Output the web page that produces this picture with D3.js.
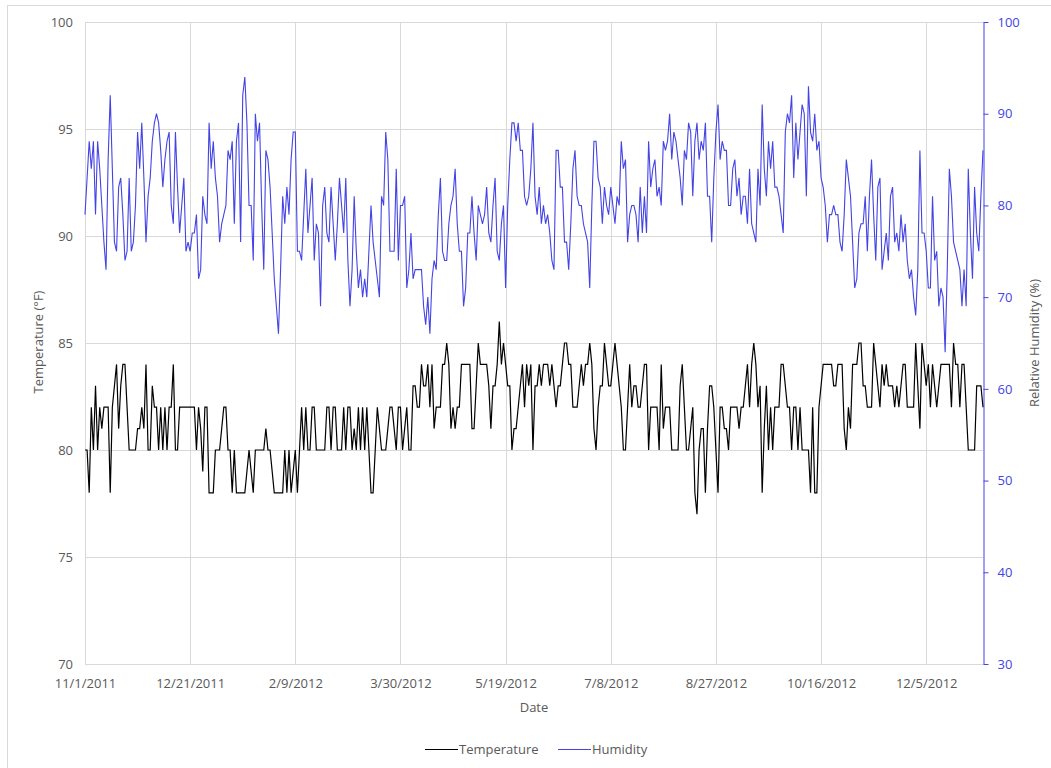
<!DOCTYPE html>
<html><head><meta charset="utf-8">
<script src="https://cdn.jsdelivr.net/npm/d3@7"></script>
<style>body{margin:0;background:#fff} text{font-family:"Open Sans",sans-serif}</style>
</head><body><svg id="c" width="1051" height="768"></svg>
<script>
const startDate = "2011-11-01";
const tickDates = ["2011-11-01","2011-12-21","2012-02-09","2012-03-30","2012-05-19","2012-07-08","2012-08-27","2012-10-16","2012-12-05"];
const tempTicks = [70,75,80,85,90,95,100];
const humTicks = [30,40,50,60,70,80,90,100];
const seriesNames = ["Temperature","Humidity"];

const temperature = [80,80,78,82,80,83,80,82,81,82,
82,82,78,82,83,84,81,83,84,84,
82,80,80,80,80,81,81,82,81,84,
80,80,83,82,82,80,82,80,82,80,
82,82,84,80,80,82,82,82,82,82,
82,82,82,80,82,81,79,82,82,78,
78,78,80,80,80,81,82,82,80,80,
78,80,78,78,78,78,78,79,80,79,
78,80,80,80,80,80,81,80,80,79,
78,78,78,78,78,80,78,80,78,79,
80,78,80,82,80,82,80,80,82,82,
80,80,80,80,80,82,82,80,82,82,
80,80,80,82,80,82,82,80,81,80,
82,80,82,80,82,80,78,78,80,82,
81,80,80,80,81,82,82,81,80,82,
82,80,81,82,80,80,83,83,82,82,
84,83,83,84,82,84,81,82,82,82,
84,84,85,84,81,82,81,82,82,84,
84,84,84,84,81,81,83,85,84,84,
84,84,83,81,83,83,84,86,84,85,
84,83,83,80,81,81,82,83,84,82,
84,83,84,80,83,83,84,83,84,84,
84,83,84,83,82,83,83,84,85,85,
84,84,82,82,82,83,84,83,84,84,
85,84,81,80,82,83,83,85,84,83,
83,84,85,84,83,82,80,80,82,84,
82,83,83,82,82,83,84,84,80,82,
82,82,82,80,84,81,82,82,82,80,
80,80,80,83,84,82,80,80,81,82,
78,77,80,81,81,78,81,83,83,82,
80,78,82,82,81,81,80,82,82,82,
82,81,82,82,83,84,82,84,85,84,
82,83,78,81,83,80,82,80,82,82,
82,84,84,83,82,82,80,82,82,80,
82,80,80,80,80,78,82,78,78,82,
83,84,84,84,84,84,83,83,84,84,
84,81,80,82,81,84,84,84,85,85,
83,83,82,82,82,85,84,83,82,84,
83,84,83,83,83,82,83,82,83,84,
84,82,82,82,82,85,83,81,85,84,
83,84,82,84,83,82,83,84,84,84,
84,84,82,85,84,84,82,84,84,82,
80,80,80,80,83,83,83,82];

const humidity = [79,83,87,84,87,79,87,84,80,76,
73,85,92,84,76,75,82,83,79,74,
75,83,75,76,80,88,84,89,83,76,
81,83,87,89,90,89,86,82,85,87,
88,80,78,88,82,77,80,83,75,76,
75,77,77,79,72,73,81,79,78,89,
84,87,83,81,76,78,79,80,86,85,
87,78,87,89,76,92,94,89,80,80,
74,90,87,89,80,73,86,85,82,77,
72,69,66,73,81,78,82,79,85,88,
88,75,75,74,79,84,77,80,83,74,
78,77,69,80,82,77,76,82,78,74,
78,83,80,77,83,74,69,73,81,75,
71,73,70,72,70,75,80,76,74,72,
70,81,80,88,85,75,75,75,84,74,
80,80,81,71,73,77,72,73,73,73,
73,69,67,70,66,72,74,73,79,83,
75,74,74,78,80,81,84,78,75,75,
69,71,77,77,81,77,74,80,79,78,
79,82,77,76,80,83,75,74,78,80,
71,80,85,89,89,87,89,86,86,81,
80,81,84,89,81,79,82,78,80,78,
79,77,74,73,86,86,82,82,76,76,
73,78,84,86,81,80,80,78,77,76,
71,80,87,87,83,82,78,82,80,79,
82,80,78,81,80,87,84,85,76,79,
80,80,79,76,82,77,81,77,87,82,
84,85,81,82,80,87,86,87,90,85,
88,87,85,83,80,86,85,89,88,81,
87,89,85,87,86,89,81,81,76,83,
88,91,85,87,86,86,80,80,84,85,
81,83,79,81,81,78,84,78,77,76,
84,80,91,84,81,87,84,87,82,82,
81,79,77,88,90,89,92,83,89,85,
88,91,90,81,93,88,87,90,86,87,
83,82,80,76,79,79,80,79,79,76,
75,79,85,83,81,76,71,72,77,78,
78,81,75,81,85,79,74,82,83,73,
75,77,74,81,82,76,77,75,79,76,
78,74,72,73,70,68,73,86,77,77,
75,71,71,81,74,75,69,71,70,64,
73,84,81,76,75,74,73,69,73,69,
84,77,72,82,77,75,81,86];

const W = 1051, H = 768;
const L = 85, R = 983, T = 22, B = 664;
const grid = "#d9d9d9", txt = "#595959", blue = "#4343e6";

const svg = d3.select("#c");
svg.append("rect").attr("x",7.5).attr("y",5.5).attr("width",1060).attr("height",780)
  .attr("fill","#fff").attr("stroke",grid).attr("stroke-width",1);

const parse = d3.utcParse("%Y-%m-%d");
const t0 = parse(startDate);
const dates = temperature.map((_, i) => d3.utcDay.offset(t0, i));
const x = d3.scaleUtc().domain([t0, dates[dates.length-1]]).range([L, R]);
const yT = d3.scaleLinear().domain([70,100]).range([B, T]);
const yH = d3.scaleLinear().domain([30,100]).range([B, T]);
const ticksX = tickDates.map(parse);
const fmt = d => (d.getUTCMonth()+1) + "/" + d.getUTCDate() + "/" + d.getUTCFullYear();

// gridlines
const g = svg.append("g");
g.selectAll(".hg").data(tempTicks).join("line")
  .attr("x1",L).attr("x2",R).attr("y1",d=>Math.round(yT(d))+0.5).attr("y2",d=>Math.round(yT(d))+0.5)
  .attr("stroke",grid).attr("stroke-width",1);
g.selectAll(".vg").data(ticksX).join("line")
  .attr("x1",d=>Math.round(x(d))+0.5).attr("x2",d=>Math.round(x(d))+0.5).attr("y1",T).attr("y2",B)
  .attr("stroke",grid).attr("stroke-width",1);

// left axis labels
const ax = d3.axisLeft(yT).tickValues(tempTicks).tickSize(0).tickPadding(12);
const gl = svg.append("g").attr("transform",`translate(${L},0)`).call(ax);
gl.select(".domain").remove();
gl.selectAll("text").attr("fill",txt).style("font-size","13px");

// bottom axis labels
const axb = d3.axisBottom(x).tickValues(ticksX).tickFormat(fmt).tickSize(0).tickPadding(15);
const gb = svg.append("g").attr("transform",`translate(0,${B})`).call(axb);
gb.select(".domain").remove();
gb.selectAll("text").attr("fill",txt).style("font-size","13px");

// right axis
const axr = d3.axisRight(yH).tickValues(humTicks).tickSize(5).tickSizeOuter(0).tickPadding(9);
const gr = svg.append("g").attr("transform",`translate(${R+0.5},0)`).call(axr);
gr.select(".domain").attr("stroke",blue);
gr.selectAll("line").attr("stroke",blue);
gr.selectAll("text").attr("fill",blue).style("font-size","13px");

// lines
const lineT = d3.line().x((d,i)=>x(dates[i])).y(d=>yT(d));
const lineH = d3.line().x((d,i)=>x(dates[i])).y(d=>yH(d));
svg.append("path").datum(humidity).attr("d",lineH).attr("fill","none").attr("stroke",blue).attr("stroke-width",1.1);
svg.append("path").datum(temperature).attr("d",lineT).attr("fill","none").attr("stroke","#000").attr("stroke-width",1.2);

// axis titles
svg.append("text").attr("transform",`translate(40,342) rotate(-90)`).attr("text-anchor","middle")
  .attr("dominant-baseline","middle").attr("fill",txt).style("font-size","13px").text("Temperature (°F)");
svg.append("text").attr("transform",`translate(1036,${(T+B)/2}) rotate(-90)`).attr("text-anchor","middle")
  .attr("dominant-baseline","middle").attr("fill",txt).style("font-size","13px").text("Relative Humidity (%)");
svg.append("text").attr("x",534).attr("y",712).attr("text-anchor","middle").attr("fill",txt)
  .style("font-size","13px").text("Date");

// legend
const leg = [{name:seriesNames[0],color:"#000",x:425},{name:seriesNames[1],color:blue,x:558}];
const lg = svg.append("g");
leg.forEach(l=>{
  lg.append("line").attr("x1",l.x).attr("x2",l.x+33).attr("y1",749.5).attr("y2",749.5).attr("stroke",l.color).attr("stroke-width",1.2);
  lg.append("text").attr("x",l.x+34).attr("y",754).attr("fill",txt).style("font-size","13px").text(l.name);
});
</script></body></html>
